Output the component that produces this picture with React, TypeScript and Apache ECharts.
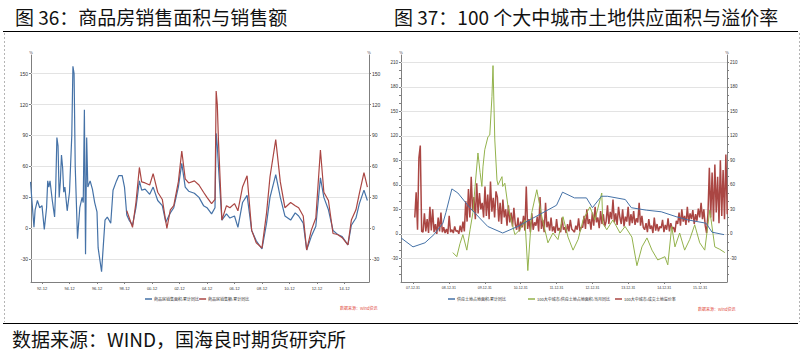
import React, { useEffect, useRef } from "react";
import * as echarts from "echarts";

const TITLE_LEFT = "图 36：商品房销售面积与销售额";
const TITLE_RIGHT = "图 37：100 个大中城市土地供应面积与溢价率";
const SOURCE = "数据来源：WIND，国海良时期货研究所";
const WATERMARK = "数据来源：Wind资讯";

const leftNames = ["商品房销售面积:累计同比", "商品房销售额:累计同比"];
const rightNames = ["供应土地占地面积:累计同比", "100大中城市:供应土地占地面积:当月同比", "100大中城市:成交土地溢价率"];

const leftYTicks = [-30, 0, 30, 60, 90, 120, 150];
const rightYTicks = [-30, 0, 30, 60, 90, 120, 150, 180, 210];
const rightYMinor = [-50, -40, -30, -20, -10, 0, 10, 20, 30, 40, 50, 60, 70, 80, 90, 100, 110, 120, 130, 140, 150, 160, 170, 180, 190, 200, 210];
const leftXTicks = ["1992-12", "1994-12", "1996-12", "1998-12", "2000-12", "2002-12", "2004-12", "2006-12", "2008-12", "2010-12", "2012-12", "2014-12"];
const rightXTicks = [2008, 2009, 2010, 2011, 2012, 2013, 2014, 2015, 2016];

// 商品房销售面积:累计同比 (%)
const salesArea: [string, number][] = [
  ["1992-02", 45], ["1992-03", 30], ["1992-05", 1], ["1992-06", 18], ["1992-08", 27], ["1992-10", 20], ["1992-12", 22],
  ["1993-02", -1], ["1993-04", 20], ["1993-05", 46], ["1993-06", 40], ["1993-07", 46], ["1993-09", 27], ["1993-11", 11], ["1993-12", 40],
  ["1994-01", 88], ["1994-02", 80], ["1994-03", 30], ["1994-04", 45], ["1994-05", 71], ["1994-06", 59], ["1994-07", 35], ["1994-08", 40], ["1994-10", 17], ["1994-12", 35],
  ["1995-02", 90], ["1995-03", 157], ["1995-04", 150], ["1995-05", 60], ["1995-07", -10], ["1995-09", 20], ["1995-11", 30], ["1995-12", 25],
  ["1996-01", 115], ["1996-02", -25], ["1996-03", 88], ["1996-04", 40], ["1996-06", 46], ["1996-08", 38], ["1996-10", 25], ["1996-12", 16],
  ["1997-01", -19], ["1997-04", -42], ["1997-07", 8], ["1997-09", 11], ["1997-12", 5],
  ["1998-02", 37], ["1998-05", 46], ["1998-07", 51], ["1998-10", 51], ["1998-12", 40],
  ["1999-02", 13], ["1999-04", 8], ["1999-07", 3], ["1999-10", 20],
  ["2000-01", 46], ["2000-03", 37], ["2000-06", 38], ["2000-10", 33],
  ["2001-01", 40], ["2001-05", 27], ["2001-09", 22], ["2001-12", 6],
  ["2002-04", 15], ["2002-07", 20], ["2002-11", 40],
  ["2003-02", 63], ["2003-05", 40], ["2003-08", 36],
  ["2004-01", 34], ["2004-05", 30], ["2004-09", 22], ["2004-12", 20],
  ["2005-04", 14], ["2005-07", 20], ["2005-08", 92], ["2005-09", 80], ["2005-10", 60],
  ["2006-01", 8], ["2006-05", 14], ["2006-08", 10], ["2006-12", 12],
  ["2007-03", 1], ["2007-07", 25], ["2007-11", 32],
  ["2008-03", -2], ["2008-07", -12], ["2008-12", -20],
  ["2009-04", 5], ["2009-07", 30], ["2009-12", 52],
  ["2010-04", 30], ["2010-08", 12],
  ["2011-01", 8], ["2011-05", 15], ["2011-08", 12], ["2011-12", 5],
  ["2012-03", -21], ["2012-07", -8], ["2012-11", 2],
  ["2013-03", 49], ["2013-06", 30], ["2013-10", 18],
  ["2014-02", -2], ["2014-06", -6], ["2014-10", -8],
  ["2015-03", -16], ["2015-06", 3], ["2015-10", 10],
  ["2016-01", 24], ["2016-05", 37], ["2016-08", 27],
];

// 商品房销售额:累计同比 (%)
const salesAmount: [string, number][] = [
  ["1999-02", 17], ["1999-07", 1], ["1999-10", 25],
  ["2000-01", 59], ["2000-03", 45], ["2000-06", 44], ["2000-10", 42],
  ["2001-01", 53], ["2001-05", 35], ["2001-09", 28],
  ["2002-01", 0], ["2002-04", 18], ["2002-07", 22], ["2002-11", 45],
  ["2003-02", 75], ["2003-05", 48], ["2003-08", 44],
  ["2004-01", 46], ["2004-05", 42], ["2004-09", 35], ["2004-12", 30],
  ["2005-04", 24], ["2005-07", 28], ["2005-08", 133], ["2005-09", 120], ["2005-10", 85],
  ["2006-01", 8], ["2006-05", 22], ["2006-08", 20], ["2006-12", 24],
  ["2007-03", 17], ["2007-07", 40], ["2007-11", 51],
  ["2008-03", -2], ["2008-07", -14], ["2008-12", -19],
  ["2009-04", 15], ["2009-07", 50], ["2009-12", 86],
  ["2010-04", 45], ["2010-08", 20],
  ["2011-01", 25], ["2011-05", 22], ["2011-08", 20], ["2011-12", 12],
  ["2012-03", -21], ["2012-07", -2], ["2012-11", 10],
  ["2013-03", 76], ["2013-06", 35], ["2013-10", 27],
  ["2014-02", -5], ["2014-06", -6], ["2014-10", -9],
  ["2015-03", -16], ["2015-06", 8], ["2015-10", 18],
  ["2016-01", 34], ["2016-05", 54], ["2016-08", 40],
];

// 供应土地占地面积:累计同比 (%)
const supplyCum: [string, number][] = [
  ["2007-09", -5], ["2008-01", -16], ["2008-05", -11], ["2008-08", -1], ["2008-11", 13], ["2008-12", 26],
  ["2009-02", 55], ["2009-04", 50], ["2009-08", 32], ["2010-02", 9], ["2010-07", 1], ["2010-12", 9],
  ["2011-05", 19], ["2012-01", 35], ["2012-03", 51], ["2012-07", 44], ["2012-11", 44],
  ["2013-01", 32], ["2013-04", 46], ["2013-06", 46], ["2013-12", 42], ["2014-02", 32], ["2014-07", 29],
  ["2014-12", 27], ["2015-05", 21], ["2015-09", 17], ["2016-03", 13], ["2016-05", 2], ["2016-09", -1],
];

// 100大中城市:供应土地占地面积:当月同比 (%), dates as decimal years
const supplyYoY: [number, number][] = [
  [2009.11, -23], [2009.22, -28], [2009.31, -12], [2009.39, -1], [2009.50, -20], [2009.59, 5], [2009.67, 26],
  [2009.73, 58], [2009.81, 99], [2009.87, 75], [2009.92, 58], [2009.95, 82], [2010.00, 103], [2010.09, 119],
  [2010.14, 121], [2010.20, 168], [2010.23, 206], [2010.28, 115], [2010.34, 66], [2010.37, 60], [2010.48, 70],
  [2010.50, 58], [2010.56, 62], [2010.65, 33], [2010.76, 13], [2010.84, -1], [2010.98, 5], [2011.12, 17],
  [2011.20, -45], [2011.31, 26], [2011.45, 54], [2011.59, 21], [2011.76, -11], [2011.90, 1], [2012.04, -7],
  [2012.18, 21], [2012.32, -4], [2012.46, -20], [2012.60, -7], [2012.74, 17], [2012.93, 33], [2013.07, 17],
  [2013.26, 50], [2013.29, 13], [2013.40, 5], [2013.57, 17], [2013.77, 1], [2013.91, 9], [2014.10, -4],
  [2014.24, -39], [2014.38, -16], [2014.52, -5], [2014.66, -20], [2014.82, -32], [2015.02, -28], [2015.10, -38],
  [2015.21, 9], [2015.30, -16], [2015.43, 1], [2015.57, -20], [2015.71, -7], [2015.85, 11], [2015.99, -11],
  [2016.13, -20], [2016.27, 29], [2016.41, -16], [2016.55, -19], [2016.69, -23],
];

// 100大中城市:成交土地溢价率 (%), one value every two weeks from the start date
const premiumStart = 2008.05;
const premiumStep = 14 / 365;
const premium: number[] = [
  20, 51, 5, 93, 108, 3, 2, 25, 3, 18, 1, 33, 4, 30, 2, 12, 0, 20, 3, 26,
  2, 8, 1, 6, 0, 22, 2, 5, 1, 9, 3, 4, 0, 10, 2, 15, 3,
  40, 15, 55, 20, 70, 28, 45, 18, 62, 25, 50, 30, 38, 20, 58, 22, 48, 18, 64, 27, 44, 20, 52,
  45, 15, 38, 12, 42, 20, 30, 10, 35, 14, 26, 9, 32, 12,
  5, 20, 3, 15, 8, 22, 4, 58, 6, 18, 2, 25, 5, 14,
  10, 21, 3, 45, 6, 17, 2, 38, 8, 15, 4, 20,
  3, 9, 1, 18, 4, 7, 2, 20, 5, 8, 1, 12, 3, 17, 6, 4, 2, 10, 5, 19, 3, 8,
  8, 22, 6, 30, 12, 18, 5, 26, 10, 33, 14, 20, 7, 28, 12, 24, 9,
  15, 35, 12, 27, 18, 42, 14, 25, 11, 33, 20,
  12, 30, 9, 21, 15, 33, 10, 24, 13, 28, 11, 19,
  14, 38, 10, 22, 8,
  5, 13, 2, 18, 6, 10, 1, 20, 4, 12, 3, 9, 7, 17, 2, 11, 5, 19, 3, 13, 6, 8, 2, 16,
  12, 26, 10, 30, 15, 22, 11, 33, 14, 25, 18, 29, 12, 24, 16, 31, 20,
  38, 18, 30, 10, 1, 25,
  81, 20, 75, 15, 85, 26, 70, 13, 90, 22, 78, 18, 97, 24,
];

const BLUE = "#4572A7";
const RED = "#AA4643";
const GREEN = "#93B24C";
const AXIS = "#7f7f7f";
const GRID = "#e3e3e3";
const CJK = '"Noto Sans CJK SC", "Noto Sans", sans-serif';
const NUM = '"Liberation Sans", Arial, sans-serif';

const ym = (s: string) => {
  const [y, m] = s.split("-").map(Number);
  return y + (m - 1) / 12;
};

function buildOption(): any {
  const leftXVals = leftXTicks.map(ym);
  const gridLines = (vals: number[]) => ({
    silent: true,
    symbol: "none",
    z: 1,
    label: { show: false },
    lineStyle: { color: GRID, width: 1, type: "solid" },
    emphasis: { disabled: true },
    data: vals.map((v) => ({ yAxis: v })),
  });
  const yCommon = (gridIndex: number, min: number, max: number, labels: number[], ticks: number[], position: string, fs: number) => ({
    type: "value",
    gridIndex,
    position,
    min,
    max,
    name: "%",
    nameLocation: "end",
    nameGap: 1,
    nameTextStyle: { fontSize: 4, color: "#444", fontFamily: NUM },
    axisLine: { show: true, onZero: false, lineStyle: { color: AXIS, width: 1 } },
    axisTick: { show: true, customValues: ticks, length: 2, lineStyle: { color: AXIS } },
    axisLabel: { customValues: labels, fontSize: fs, color: "#333", margin: 3, fontFamily: NUM },
    splitLine: { show: false },
  });
  const lineSeries = (name: string, color: string, data: any[], xi: number, yi: number, z: number, width = 1) => ({
    name,
    type: "line",
    xAxisIndex: xi,
    yAxisIndex: yi,
    data,
    showSymbol: false,
    symbol: "none",
    z,
    color,
    lineStyle: { color, width },
    emphasis: { disabled: true },
  });
  const legend = (left: number, data: string[]) => ({
    left,
    top: 297,
    padding: 0,
    itemWidth: 7,
    itemHeight: 1.5,
    itemGap: 0,
    icon: "rect",
    selectedMode: false,
    textStyle: { fontSize: 4, color: "#333", fontFamily: CJK, padding: [0, 0, 0, -3] },
    data,
  });

  return {
    animation: false,
    backgroundColor: "#ffffff",
    grid: [
      { left: 31, top: 55, width: 338, height: 227 },
      { left: 401, top: 55, width: 326, height: 227 },
    ],
    xAxis: [
      {
        type: "value",
        gridIndex: 0,
        min: 1992.117,
        max: 2016.7,
        axisLine: { show: true, onZero: false, lineStyle: { color: AXIS, width: 1 } },
        axisTick: { show: true, customValues: leftXVals, length: 2, lineStyle: { color: AXIS } },
        axisLabel: {
          customValues: leftXVals,
          fontSize: 4,
          color: "#333",
          margin: 4,
          fontFamily: NUM,
          formatter: (v: number) => `${String(Math.floor(v + 0.001)).slice(2)}-12`,
        },
        splitLine: { show: false },
      },
      {
        type: "value",
        gridIndex: 1,
        min: 2007.666,
        max: 2016.75,
        axisLine: { show: true, onZero: false, lineStyle: { color: AXIS, width: 1 } },
        axisTick: { show: true, customValues: rightXTicks, length: 2, lineStyle: { color: AXIS } },
        axisLabel: {
          customValues: rightXTicks,
          fontSize: 3.5,
          color: "#333",
          margin: 4,
          fontFamily: NUM,
          formatter: (v: number) => `${String(Math.round(v) - 1).slice(2)}-12-31`,
        },
        splitLine: { show: false },
      },
    ],
    yAxis: [
      yCommon(0, -52, 168, leftYTicks, leftYTicks, "left", 5),
      yCommon(0, -52, 168, leftYTicks, leftYTicks, "right", 5),
      yCommon(1, -59, 219, rightYTicks, rightYMinor, "left", 4.5),
      yCommon(1, -59, 219, rightYTicks, rightYMinor, "right", 4.5),
    ],
    legend: [
      legend(145, [leftNames[0], leftNames[1]]),
      legend(448, [rightNames[0]]),
      legend(528, [rightNames[1]]),
      legend(615, [rightNames[2]]),
    ],
    series: [
      { ...lineSeries(leftNames[0], BLUE, salesArea.map(([d, v]) => [ym(d), v]), 0, 0, 3, 1.2), markLine: gridLines(leftYTicks) },
      lineSeries(leftNames[1], RED, salesAmount.map(([d, v]) => [ym(d), v]), 0, 1, 4, 1.2),
      {
        ...lineSeries(rightNames[2], RED, premium.map((v, i) => [premiumStart + i * premiumStep, v]), 1, 2, 3, 1.5),
        markLine: gridLines(rightYTicks),
      },
      lineSeries(rightNames[1], GREEN, supplyYoY, 1, 3, 4),
      lineSeries(rightNames[0], BLUE, supplyCum.map(([d, v]) => [ym(d), v]), 1, 2, 5),
    ],
    graphic: [
      { type: "text", x: 15, y: 16, style: { text: TITLE_LEFT, fontSize: 19, fontFamily: CJK, fill: "#111", verticalAlign: "middle", align: "left" } },
      { type: "text", x: 394, y: 16, style: { text: TITLE_RIGHT, fontSize: 19, fontFamily: CJK, fill: "#111", verticalAlign: "middle", align: "left" } },
      { type: "line", shape: { x1: 3, y1: 31.5, x2: 798, y2: 31.5 }, style: { stroke: "#000", lineWidth: 1 } },
      { type: "line", shape: { x1: 3, y1: 323.5, x2: 798, y2: 323.5 }, style: { stroke: "#000", lineWidth: 1.2 } },
      { type: "line", shape: { x1: 4.5, y1: 33, x2: 4.5, y2: 322 }, style: { stroke: "#b5b5b5", lineWidth: 1, lineDash: [2, 2] } },
      { type: "line", shape: { x1: 799.5, y1: 33, x2: 799.5, y2: 322 }, style: { stroke: "#b5b5b5", lineWidth: 1, lineDash: [2, 2] } },
      { type: "text", x: 340, y: 308, style: { text: WATERMARK, fontSize: 4, fontFamily: CJK, fill: "#e0453a", verticalAlign: "middle" } },
      { type: "text", x: 698, y: 309, style: { text: WATERMARK, fontSize: 4, fontFamily: CJK, fill: "#e0453a", verticalAlign: "middle" } },
      { type: "text", x: 12, y: 338, style: { text: SOURCE, fontSize: 19, fontFamily: CJK, fill: "#111", verticalAlign: "middle", align: "left" } },
    ],
  };
}

export default function App() {
  const ref = useRef<HTMLDivElement>(null);
  useEffect(() => {
    if (!ref.current) return;
    const chart = echarts.init(ref.current, undefined, { renderer: "svg" });
    chart.setOption(buildOption());
    return () => chart.dispose();
  }, []);
  return (
    <div
      ref={ref}
      style={{ position: "fixed", left: 0, top: 0, width: 806, height: 351, background: "#fff" }}
    />
  );
}
